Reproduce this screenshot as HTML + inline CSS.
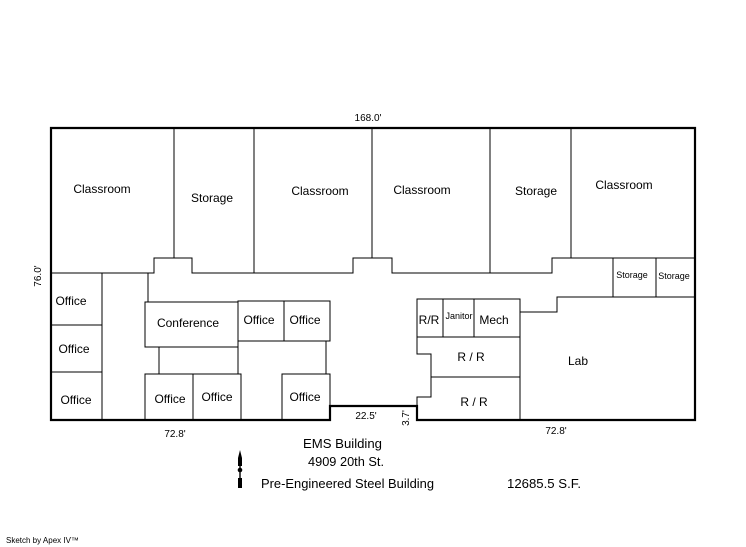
<!DOCTYPE html>
<html><head><meta charset="utf-8"><style>
html,body{margin:0;padding:0;background:#fff;width:746px;height:547px;overflow:hidden}
svg{display:block}
text{font-family:"Liberation Sans",Arial,sans-serif;fill:#000}
</style></head><body>
<svg width="746" height="547" viewBox="0 0 746 547" xmlns="http://www.w3.org/2000/svg">
<g stroke="#000" stroke-width="1" fill="none" shape-rendering="crispEdges">
<line x1="174" y1="128" x2="174" y2="258"/>
<line x1="254" y1="128" x2="254" y2="273"/>
<line x1="372" y1="128" x2="372" y2="258"/>
<line x1="490" y1="128" x2="490" y2="273"/>
<line x1="571" y1="128" x2="571" y2="258"/>
<polyline points="51,273 154,273 154,258 192,258 192,273 353,273 353,258 392,258 392,273 552,273 552,258 695,258"/>
<line x1="613" y1="258" x2="613" y2="297"/>
<line x1="656" y1="258" x2="656" y2="297"/>
<polyline points="695,297 557,297 557,312 520,312"/>
<line x1="102" y1="273" x2="102" y2="420"/>
<line x1="51" y1="325" x2="102" y2="325"/>
<line x1="51" y1="372" x2="102" y2="372"/>
<line x1="148" y1="273" x2="148" y2="302"/>
<rect x="145" y="302" width="93" height="45"/>
<rect x="238" y="301" width="46" height="40"/>
<rect x="284" y="301" width="46" height="40"/>
<line x1="159" y1="347" x2="159" y2="374"/>
<line x1="238" y1="347" x2="238" y2="374"/>
<line x1="326" y1="341" x2="326" y2="374"/>
<rect x="145" y="374" width="48" height="46"/>
<rect x="193" y="374" width="48" height="46"/>
<rect x="282" y="374" width="48" height="46"/>
<rect x="417" y="299" width="103" height="38"/>
<line x1="443" y1="299" x2="443" y2="337"/>
<line x1="474" y1="299" x2="474" y2="337"/>
<polyline points="417,337 417,354 431,354 431,397 417,397 417,420"/>
<line x1="431" y1="377" x2="520" y2="377"/>
<line x1="520" y1="337" x2="520" y2="420"/>
</g>
<polygon points="51,128 695,128 695,420 417,420 417,406 330,406 330,420 51,420" fill="none" stroke="#000" stroke-width="2.2"/>
<g fill="#000">
<polygon points="240,450 242,458 242,466 238,466 238,458"/>
<circle cx="240" cy="470" r="2.3"/>
<rect x="239.3" y="456" width="1.4" height="32"/>
<polygon points="238,478 242,478 242,488 238,488"/>
</g>
<g font-size="12" text-anchor="middle">
<text x="102" y="193">Classroom</text>
<text x="212" y="202">Storage</text>
<text x="320" y="195">Classroom</text>
<text x="422" y="194">Classroom</text>
<text x="536" y="195">Storage</text>
<text x="624" y="189">Classroom</text>
<text x="632" y="278" font-size="9">Storage</text>
<text x="674" y="279" font-size="9">Storage</text>
<text x="71" y="305">Office</text>
<text x="74" y="353">Office</text>
<text x="76" y="404">Office</text>
<text x="188" y="327">Conference</text>
<text x="259" y="324">Office</text>
<text x="305" y="324">Office</text>
<text x="170" y="403">Office</text>
<text x="217" y="401">Office</text>
<text x="305" y="401">Office</text>
<text x="429" y="324">R/R</text>
<text x="459" y="319" font-size="9">Janitor</text>
<text x="494" y="324">Mech</text>
<text x="471" y="361">R / R</text>
<text x="474" y="406">R / R</text>
<text x="578" y="365">Lab</text>
</g>
<g font-size="10" text-anchor="middle">
<text x="368" y="121">168.0'</text>
<text x="175" y="437">72.8'</text>
<text x="556" y="434">72.8'</text>
<text x="366" y="419">22.5'</text>
<text transform="translate(41,276) rotate(-90)">76.0'</text>
<text transform="translate(409,418) rotate(-90)">3.7'</text>
</g>
<g font-size="12.5">
<text x="303" y="448" textLength="79" lengthAdjust="spacingAndGlyphs">EMS Building</text>
<text x="308" y="466" textLength="76" lengthAdjust="spacingAndGlyphs">4909 20th St.</text>
<text x="261" y="488" textLength="173" lengthAdjust="spacingAndGlyphs">Pre-Engineered Steel Building</text>
<text x="507" y="488" textLength="74" lengthAdjust="spacingAndGlyphs">12685.5 S.F.</text>
</g>
<text x="6" y="543" font-size="8">Sketch by Apex IV™</text>
</svg>
</body></html>
